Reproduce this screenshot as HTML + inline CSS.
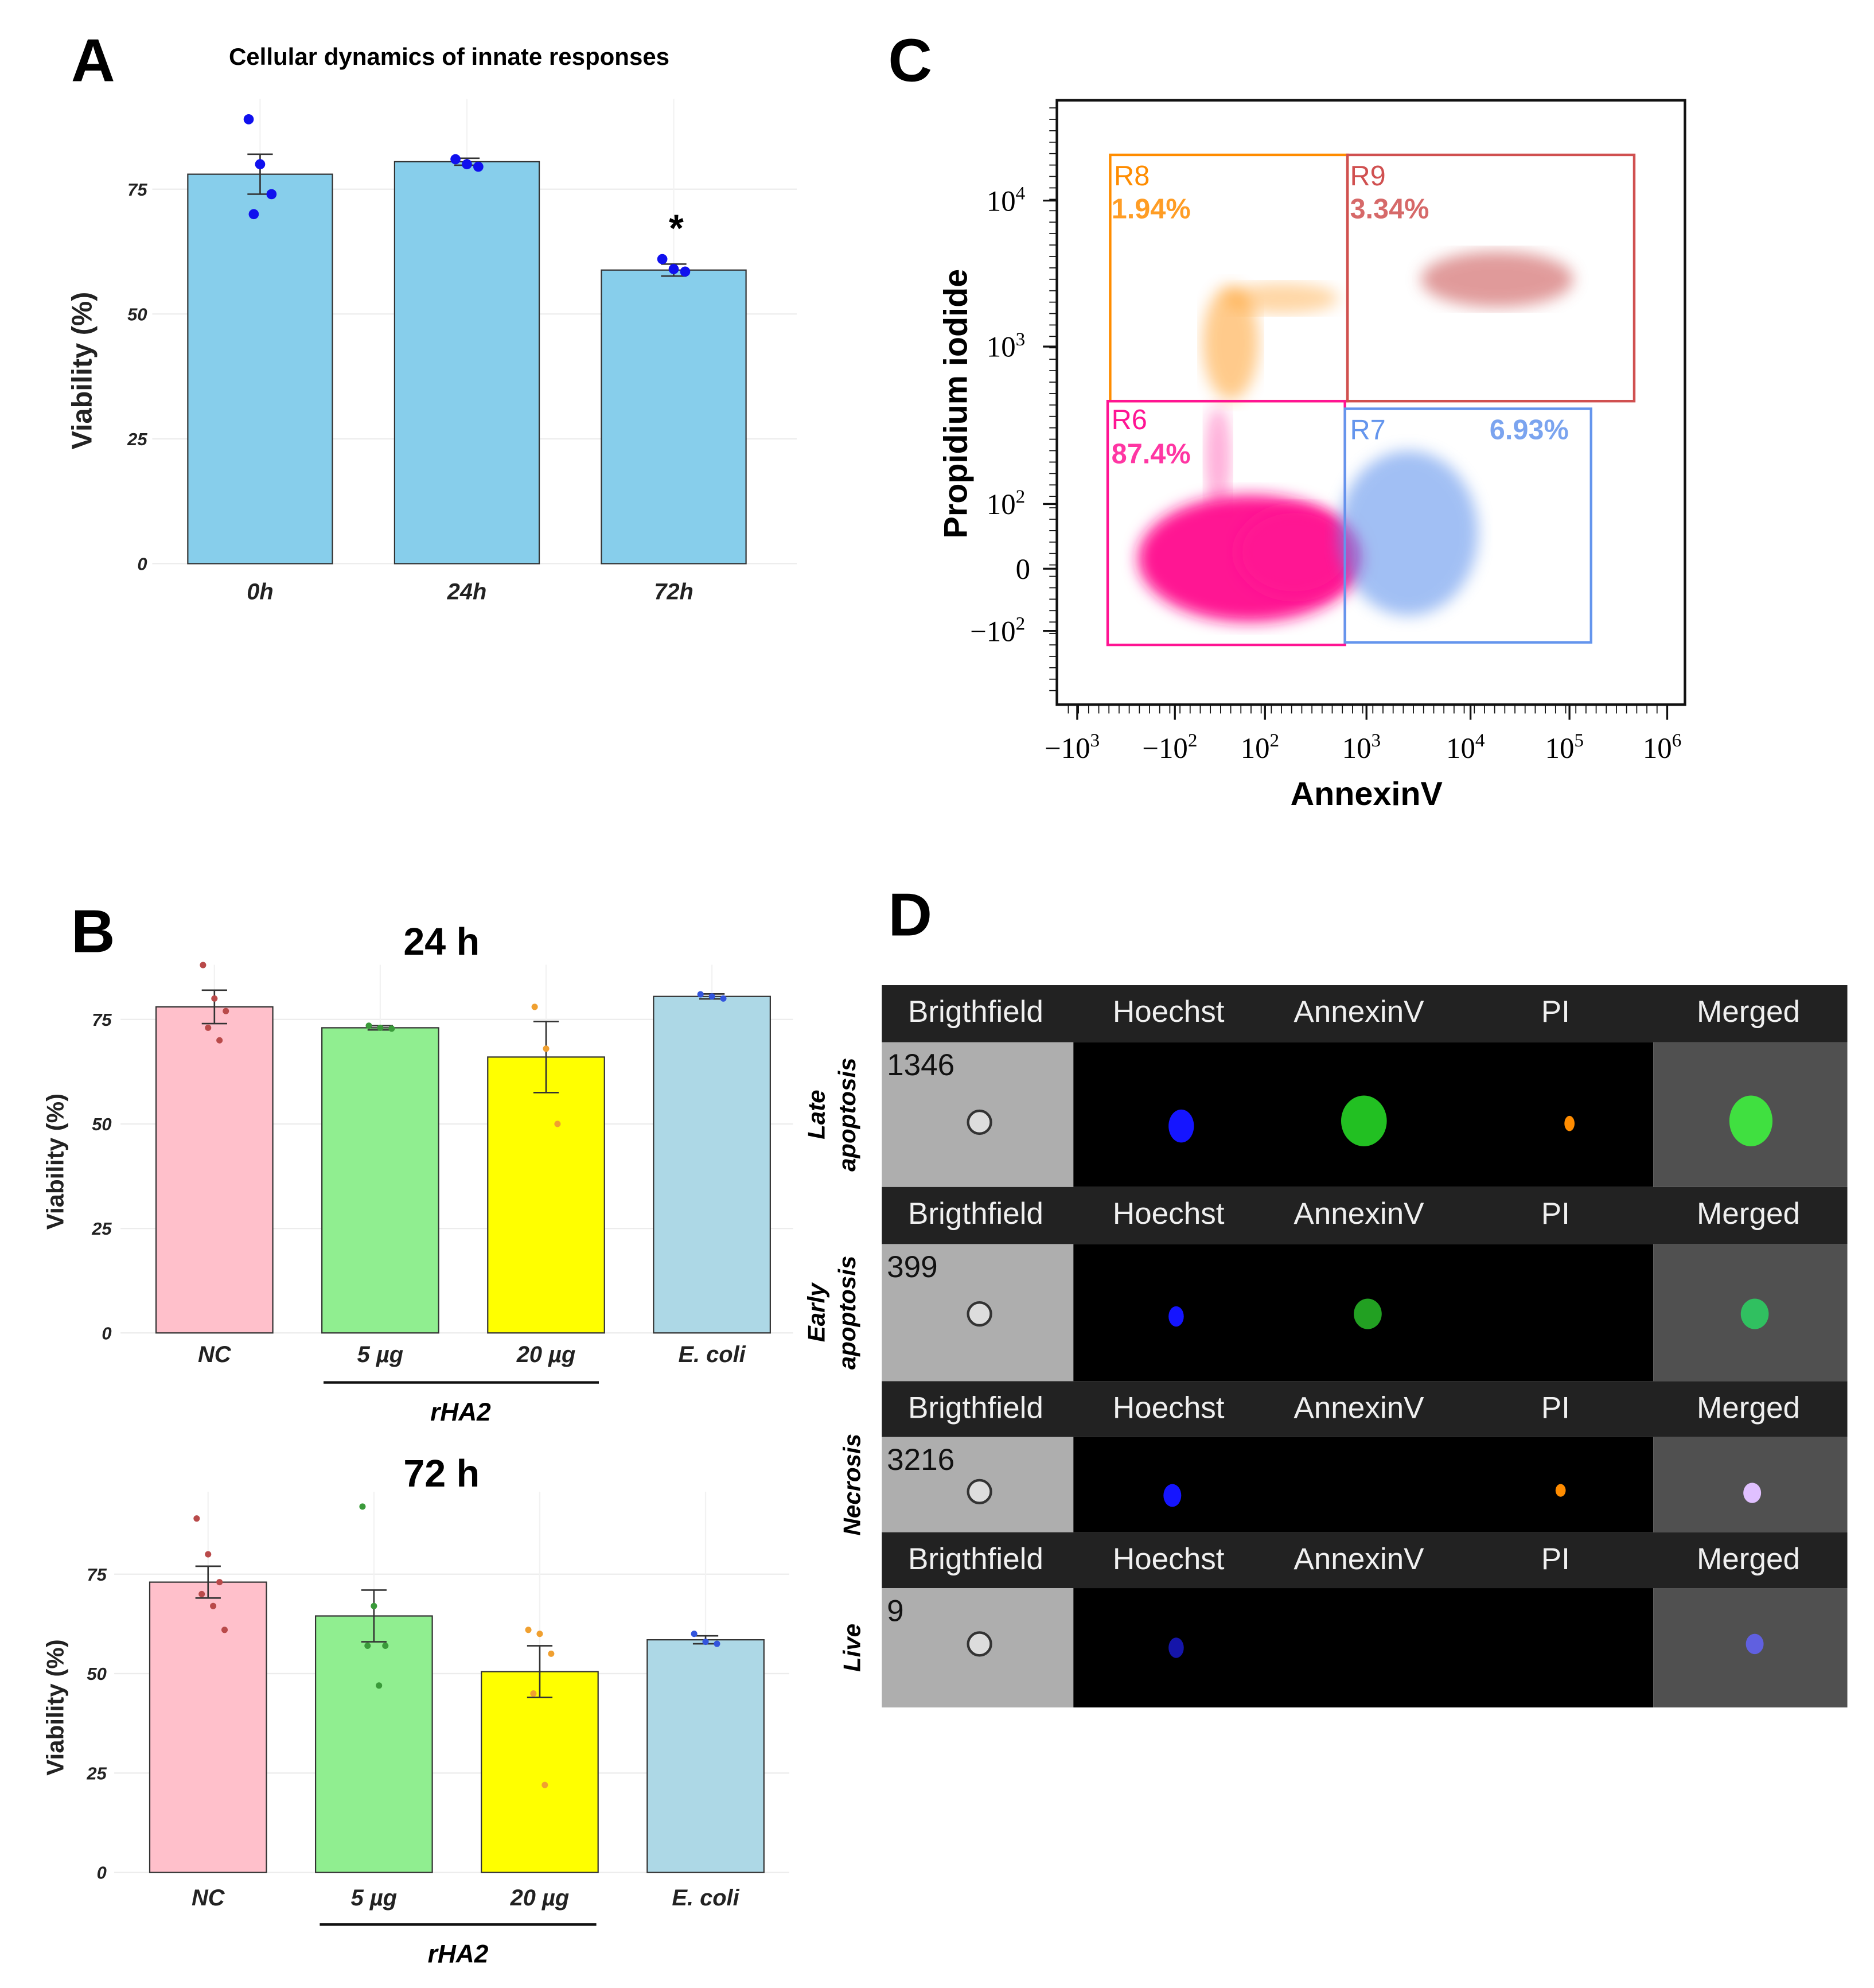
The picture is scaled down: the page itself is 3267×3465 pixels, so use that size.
<!DOCTYPE html>
<html><head><meta charset="utf-8">
<style>
html,body{margin:0;padding:0;background:#fff;}
svg{display:block;font-family:"Liberation Sans",sans-serif;}
</style></head>
<body>
<svg id="fig" width="3267" height="3465" viewBox="0 0 1477 1566" preserveAspectRatio="none" xmlns="http://www.w3.org/2000/svg">
<g id="pA"></g>
<g id="pB1"></g>
<g id="pB2"></g>
<g id="pC"></g>
<g id="pD"></g>
</svg>
<script>
// ---- Panel A data ----
const aCats = ["0h","24h","72h"];
const aVals = [78, 80.5, 58.8];
const aErr = [4, 0.7, 1.2];
const aPts = [[89,80,74,70],[81,80,79.5],[61,59,58.5]];
// ---- Panel B data ----
const bCats = ["NC","5 µg","20 µg","E. coli"];
const b24Vals = [78, 73, 66, 80.5];
const b24Err = [4, 0.5, 8.5, 0.6];
const b24Pts = [[88,80,77,73,70],[73.5,73,72.8],[78,68,50],[81,80.5,80]];
const b72Vals = [73, 64.5, 50.5, 58.5];
const b72Err = [4, 6.5, 6.5, 1];
const b72Pts = [[89,80,73,70,67,61],[92,67,57,57,47],[61,60,55,45,22],[60,58,57.5]];
const barCols = ["#ffc0cb","#90ee90","#ffff00","#add8e6"];
const dotCols = ["#b94a4a","#3a9a3a","#f0a030","#3355dd"];
// ---- Panel C data ----
const cXTicks = ["−10","−10","10","10","10","10","10"];
const cXExp = ["3","2","2","3","4","5","6"];
const cYTicks = ["10","10","10","0","−10"];
const cYExp = ["4","3","2","","2"];
const gateNames = ["R8","R9","R6","R7"];
const gatePct = ["1.94%","3.34%","87.4%","6.93%"];
// ---- Panel D data ----
const dCols = ["Brigthfield","Hoechst","AnnexinV","PI","Merged"];
const dRows = ["Late apoptosis","Early apoptosis","Necrosis","Live"];
const dIds = ["1346","399","3216","9"];

const NS="http://www.w3.org/2000/svg";
function el(p,t,a,txt){const e=document.createElementNS(NS,t);for(const k in a)e.setAttribute(k,a[k]);if(txt!==undefined)e.textContent=txt;p.appendChild(e);return e;}

function barPanel(g,opt){
  const y=v=>opt.y0-v*opt.k;
  [0,25,50,75].forEach(t=>{
    const l=el(g,'line',{x1:opt.gx0,x2:opt.gx1,y1:y(t),y2:y(t),stroke:'#ececec','stroke-width':1});
    
    
    const tx=el(g,'text',{x:opt.tickX,y:y(t)+5,'text-anchor':'end','font-size':14,'font-weight':'bold','font-style':'italic',fill:'#222'},t);
    
    
  });
  opt.cats.forEach((c,i)=>{
    const x0=opt.x0+i*opt.step, cx=x0+opt.w/2;
    const vl=el(g,'line',{x1:cx,x2:cx,y1:opt.gTop,y2:opt.y0,stroke:'#f2f2f2'});
    
    
    const b=el(g,'rect',{x:x0,y:y(opt.vals[i]),width:opt.w,height:opt.vals[i]*opt.k,fill:opt.cols[i],stroke:'#333','stroke-width':1});
    
    
    const e1=y(opt.vals[i]+opt.err[i]),e2=y(opt.vals[i]-opt.err[i]);
    const eb=el(g,'path',{d:`M${cx},${e1}V${e2}M${cx-10},${e1}H${cx+10}M${cx-10},${e2}H${cx+10}`,stroke:'#333','stroke-width':1.2,fill:'none'});
    
    
    opt.pts[i].forEach((p,j)=>{
      const d=el(g,'circle',{cx:cx+((j%3)-1)*9+(j>2?4:0),cy:y(p),r:opt.r,fill:opt.dcols[i]});
      
      
    });
    const lb=el(g,'text',{x:cx,y:opt.labY,'text-anchor':'middle','font-size':opt.labFs,'font-weight':'bold','font-style':'italic',fill:'#222'},c);
    
    
  });
  const yt=el(g,'text',{transform:`translate(${opt.ytX},${opt.ytY}) rotate(-90)`,'text-anchor':'middle','font-size':opt.ytFs,'font-weight':'bold',fill:'#222'},'Viability (%)');
  
  
  return y;
}

// Panel A
const gA=document.getElementById('pA');
let t=el(gA,'text',{x:56,y:64,'font-size':48,'font-weight':'bold'},'A');

t=el(gA,'text',{x:354,y:51,'text-anchor':'middle','font-size':19,'font-weight':'bold'},'Cellular dynamics of innate responses');

const yA=barPanel(gA,{cats:aCats,vals:aVals,err:aErr,pts:aPts,cols:['#87ceeb','#87ceeb','#87ceeb'],dcols:['#1010ee','#1010ee','#1010ee'],
  y0:444,k:3.933,x0:148,step:163,w:114,gx0:120,gx1:628,gTop:78,tickX:116,labY:472,labFs:18,ytX:72,ytY:292,ytFs:22,r:4});
t=el(gA,'text',{x:533,y:190,'text-anchor':'middle','font-size':30,'font-weight':'bold'},'*');


// Panel B
const gB1=document.getElementById('pB1');
t=el(gB1,'text',{x:56,y:750,'font-size':48,'font-weight':'bold'},'B');

t=el(gB1,'text',{x:348,y:752,'text-anchor':'middle','font-size':30,'font-weight':'bold'},'24 h');

barPanel(gB1,{cats:bCats,vals:b24Vals,err:b24Err,pts:b24Pts,cols:barCols,dcols:dotCols,
  y0:1050,k:3.293,x0:123,step:130.7,w:92,gx0:95,gx1:625,gTop:760,tickX:88,labY:1073,labFs:18,ytX:50,ytY:915,ytFs:19,r:2.5});
let u=el(gB1,'line',{x1:255,x2:472,y1:1089,y2:1089,stroke:'#111','stroke-width':2});

t=el(gB1,'text',{x:363,y:1119,'text-anchor':'middle','font-size':20,'font-weight':'bold','font-style':'italic'},'rHA2');


const gB2=document.getElementById('pB2');
t=el(gB2,'text',{x:348,y:1171,'text-anchor':'middle','font-size':30,'font-weight':'bold'},'72 h');

barPanel(gB2,{cats:bCats,vals:b72Vals,err:b72Err,pts:b72Pts,cols:barCols,dcols:dotCols,
  y0:1475,k:3.133,x0:118,step:130.7,w:92,gx0:90,gx1:622,gTop:1175,tickX:84,labY:1501,labFs:18,ytX:50,ytY:1345,ytFs:19,r:2.5});
u=el(gB2,'line',{x1:252,x2:470,y1:1516,y2:1516,stroke:'#111','stroke-width':2});

t=el(gB2,'text',{x:361,y:1546,'text-anchor':'middle','font-size':20,'font-weight':'bold','font-style':'italic'},'rHA2');


// Panel C
const gC=document.getElementById('pC');
t=el(gC,'text',{x:700,y:64,'font-size':48,'font-weight':'bold'},'C');

let fr=el(gC,'rect',{x:833,y:79,width:495,height:476,fill:'#fff',stroke:'#111','stroke-width':2});

const defs=el(gC,'defs',{});
const f=el(defs,'filter',{id:'blur'});el(f,'feGaussianBlur',{stdDeviation:6});
const clouds=[['#ff1493',985,440,88,50,1],['#ff1493',1020,435,45,35,1],['#ff1493',960,360,10,40,0.35],['#6495ed',1110,420,55,65,0.6],['#ff8c00',970,270,22,45,0.45],['#ff8c00',1010,235,45,12,0.35],['#c84848',1180,220,60,22,0.55]];
clouds.forEach(c=>{const e=el(gC,'ellipse',{cx:c[1],cy:c[2],rx:c[3],ry:c[4],fill:c[0],opacity:c[5],filter:'url(#blur)'});
  });
const gates=[[875,122,187,194,'#ff8c00'],[1062,122,226,194,'#d05050'],[873,316,187,192,'#ff1493'],[1060,322,194,184,'#6495ed']];
const gateTxt=[[878,146,876,172],[1064,146,1064,172],[876,338,876,365],[1064,346,1174,346]];
gates.forEach((g,i)=>{
  const r=el(gC,'rect',{x:g[0],y:g[1],width:g[2],height:g[3],fill:'none',stroke:g[4],'stroke-width':2});
  
  const p=gateTxt[i];
  let a=el(gC,'text',{x:p[0],y:p[1],'font-size':22,fill:g[4]},gateNames[i]);
  
  a=el(gC,'text',{x:p[2],y:p[3],'font-size':22,'font-weight':'bold',fill:g[4],opacity:0.85},gatePct[i]);
  
});
const cYpos=[158,273,397,448,497], cXpos=[845,922,993,1073,1155,1233,1310];
cYTicks.forEach((s,i)=>{
  const tx=el(gC,'text',{x:cYExp[i]?808:812,y:cYpos[i]+8,'text-anchor':'end','font-size':23,'font-family':'Liberation Serif,serif'});
  
  tx.appendChild(document.createTextNode(s));
  if(cYExp[i]){el(tx,'tspan',{dy:-9,'font-size':15},cYExp[i]);}
  el(gC,'line',{x1:822,x2:833,y1:cYpos[i],y2:cYpos[i],stroke:'#111','stroke-width':1.5});
});
for(let yy=85;yy<545;yy+=9){el(gC,'line',{x1:827,x2:833,y1:yy,y2:yy,stroke:'#111','stroke-width':0.8});}
cXTicks.forEach((s,i)=>{
  const tx=el(gC,'text',{x:cXpos[i],y:597,'text-anchor':'middle','font-size':23,'font-family':'Liberation Serif,serif'});
  
  tx.appendChild(document.createTextNode(s));el(tx,'tspan',{dy:-9,'font-size':15},cXExp[i]);
  el(gC,'line',{x1:cXpos[i]+4,x2:cXpos[i]+4,y1:555,y2:567,stroke:'#111','stroke-width':1.5});
});
for(let xx=842;xx<1320;xx+=8){el(gC,'line',{x1:xx,x2:xx,y1:555,y2:562,stroke:'#111','stroke-width':0.8});}
t=el(gC,'text',{transform:'translate(762,318) rotate(-90)','text-anchor':'middle','font-size':26,'font-weight':'bold'},'Propidium iodide');

t=el(gC,'text',{x:1077,y:634,'text-anchor':'middle','font-size':26,'font-weight':'bold'},'AnnexinV');


// Panel D
const gD=document.getElementById('pD');
t=el(gD,'text',{x:700,y:737,'font-size':48,'font-weight':'bold'},'D');

const rowsY=[[776,821,935],[935,980,1088],[1088,1132,1207],[1207,1251,1345]];
const colX=[769,921,1071,1226,1378];
const cells=[
 [['#1515ff',931,887,10,13],['#22c022',1075,883,18,20],['#ff8c00',1237,885,4,6],['#40e040',1380,883,17,20]],
 [['#1515ff',927,1037,6,8],['#22a022',1078,1035,11,12],['#30c060',1383,1035,11,12]],
 [['#1515ff',924,1178,7,9],['#ff8c00',1230,1174,4,5],['#e0c0ff',1381,1176,7,8]],
 [['#1515aa',927,1298,6,8],['#6060e0',1383,1295,7,8]]];
const bfCy=[884,1035,1175,1295];
rowsY.forEach((r,i)=>{
  let a=el(gD,'rect',{x:695,y:r[0],width:761,height:r[1]-r[0],fill:'#222'});
  
  dCols.forEach((c,j)=>{const tx=el(gD,'text',{x:colX[j],y:r[0]+29,'text-anchor':'middle','font-size':24,fill:'#f0f0f0'},c);
    });
  a=el(gD,'rect',{x:695,y:r[1],width:151,height:r[2]-r[1],fill:'#aeaeae'});
  
  a=el(gD,'rect',{x:846,y:r[1],width:457,height:r[2]-r[1],fill:'#000'});
  
  a=el(gD,'rect',{x:1303,y:r[1],width:153,height:r[2]-r[1],fill:'#505050'});
  
  el(gD,'circle',{cx:772,cy:bfCy[i],r:9,fill:'#ddd',stroke:'#333','stroke-width':2});
  a=el(gD,'text',{x:699,y:r[1]+26,'font-size':24,fill:'#111'},dIds[i]);
  
  cells[i].forEach(c=>el(gD,'ellipse',{cx:c[1],cy:c[2],rx:c[3],ry:c[4],fill:c[0]}));
  const ly=(r[1]+r[2])/2;
  const words=dRows[i].split(' ');
  words.forEach((w,k)=>{const tx=el(gD,'text',{transform:`translate(${words.length>1?650+k*24:678},${ly}) rotate(-90)`,'text-anchor':'middle','font-size':19,'font-weight':'bold','font-style':'italic'},w);
    });
});
</script>
</body></html>
